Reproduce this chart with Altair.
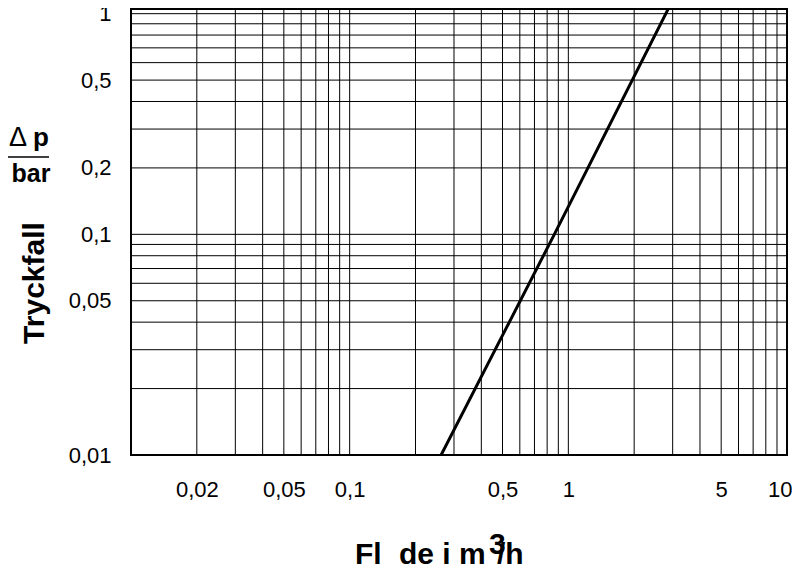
import altair as alt
import pandas as pd

# Curve: flow in m3/h vs pressure drop in bar
flow = [0.262, 0.863, 2.93]
dp = [0.01, 0.1, 1.1]

x_grid = [0.02, 0.03, 0.04, 0.05, 0.06, 0.07, 0.08, 0.09, 0.1,
          0.2, 0.3, 0.4, 0.5, 0.6, 0.7, 0.8, 0.9, 1,
          2, 3, 4, 5, 6, 7, 8, 9]
y_grid = [0.02, 0.03, 0.04, 0.05, 0.06, 0.07, 0.08, 0.09, 0.1,
          0.2, 0.3, 0.4, 0.5, 0.6, 0.7, 0.8, 0.9, 1]
x_labels = [0.02, 0.05, 0.1, 0.5, 1, 5, 10]
y_labels = [0.01, 0.05, 0.1, 0.2, 0.5, 1]

FONT = "Liberation Sans"
label_expr = "replace(toString(datum.value), '.', ',')"

xs = alt.Scale(type="log", domain=[0.01, 10], nice=False)
ys = alt.Scale(type="log", domain=[0.01, 1.05], nice=False)

line = alt.Chart(pd.DataFrame({"x": flow, "y": dp})).mark_line(
    color="black", strokeWidth=3, clip=True
).encode(
    x=alt.X("x:Q", scale=xs, axis=alt.Axis(
        values=x_labels, labelExpr=label_expr, grid=False, ticks=False, domain=False,
        labelFontSize=22, labelFont=FONT, labelColor="black", labelPadding=24,
        labelFlush=True, labelFlushOffset=5, title=None)),
    y=alt.Y("y:Q", scale=ys, axis=alt.Axis(
        values=y_labels, labelExpr=label_expr, grid=False, ticks=False, domain=False,
        labelFontSize=22, labelFont=FONT, labelColor="black", labelPadding=20,
        title=None)),
)

xgrid = alt.Chart(pd.DataFrame({"x": x_grid})).mark_rule(
    color="black", strokeWidth=1
).encode(x=alt.X("x:Q", scale=xs))

ygrid = alt.Chart(pd.DataFrame({"y": y_grid})).mark_rule(
    color="black", strokeWidth=1
).encode(y=alt.Y("y:Q", scale=ys))

def txt(s, x, y, size=26, angle=0, align="center", baseline="alphabetic", weight="bold"):
    kw = dict(fontSize=size, fontWeight=weight, font=FONT, color="black",
              align=align, baseline=baseline)
    if angle:
        kw["angle"] = angle
    return alt.Chart(pd.DataFrame({"t": [s]})).mark_text(**kw).encode(
        x=alt.value(x), y=alt.value(y), text="t:N")

ytitle = txt("Tryckfall", -96, 274, size=30, angle=270, baseline="middle")
delta = txt("\u0394", -113, 137, size=27, weight="normal")
p_txt = txt("p", -90, 137, size=26)
bar_txt = txt("bar", -100, 173, size=25)
frac = alt.Chart(pd.DataFrame({"t": [0]})).mark_rule(color="black", strokeWidth=1.5).encode(
    x=alt.value(-123), x2=alt.value(-82), y=alt.value(148))

xt1 = txt("Fl", 224, 555, size=30, align="left")
xt2 = txt("de i m", 268, 555, size=30, align="left")
xt3 = txt("3", 358, 545, size=30, align="left")
xt4 = txt("/h", 366, 555, size=30, align="left")

chart = alt.layer(
    xgrid, ygrid, line, ytitle, delta, p_txt, bar_txt, frac, xt1, xt2, xt3, xt4
).properties(
    width=656, height=446,
    autosize=alt.AutoSizeParams(type="none"),
    padding={"left": 123, "top": 1, "right": 5, "bottom": 115},
    background="white",
).configure_view(stroke="black", strokeWidth=2)

chart.save("out.html", embed_options={"renderer": "svg", "actions": False})
